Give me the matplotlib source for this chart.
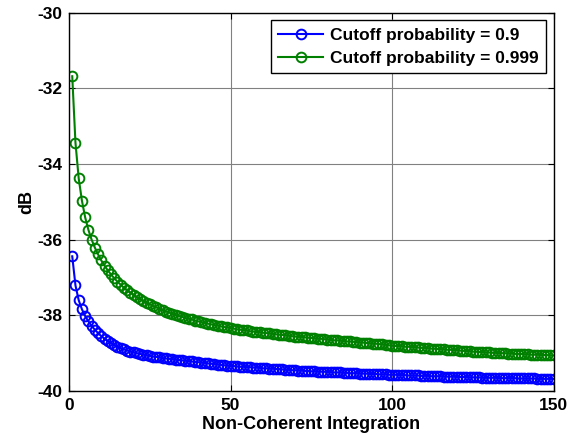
import matplotlib
matplotlib.use("Agg")
import matplotlib.pyplot as plt
import numpy as np

# Non-coherent integration count (1..150)
n_int = np.arange(1, 151)

# Cutoff probability = 0.9 (dB)
db_p09 = [
    -36.44, -37.21, -37.60, -37.84, -38.02, -38.16, -38.28, -38.38, -38.47, -38.55,
    -38.62, -38.68, -38.73, -38.78, -38.83, -38.87, -38.90, -38.93, -38.96, -38.98,
    -39.00, -39.02, -39.04, -39.06, -39.07, -39.09, -39.10, -39.11, -39.13, -39.14,
    -39.15, -39.16, -39.17, -39.18, -39.19, -39.20, -39.21, -39.22, -39.23, -39.24,
    -39.25, -39.26, -39.27, -39.28, -39.29, -39.30, -39.31, -39.32, -39.33, -39.34,
    -39.34, -39.35, -39.36, -39.36, -39.37, -39.37, -39.38, -39.38, -39.39, -39.40,
    -39.40, -39.41, -39.41, -39.42, -39.42, -39.43, -39.44, -39.44, -39.45, -39.45,
    -39.46, -39.46, -39.47, -39.47, -39.48, -39.48, -39.49, -39.49, -39.49, -39.50,
    -39.50, -39.51, -39.51, -39.51, -39.52, -39.52, -39.53, -39.53, -39.53, -39.54,
    -39.54, -39.54, -39.55, -39.55, -39.55, -39.56, -39.56, -39.56, -39.57, -39.57,
    -39.57, -39.58, -39.58, -39.58, -39.59, -39.59, -39.59, -39.59, -39.60, -39.60,
    -39.60, -39.61, -39.61, -39.61, -39.61, -39.62, -39.62, -39.62, -39.62, -39.63,
    -39.63, -39.63, -39.63, -39.64, -39.64, -39.64, -39.64, -39.65, -39.65, -39.65,
    -39.65, -39.65, -39.66, -39.66, -39.66, -39.66, -39.66, -39.66, -39.67, -39.67,
    -39.67, -39.67, -39.67, -39.67, -39.68, -39.68, -39.68, -39.68, -39.68, -39.68,
]

# Cutoff probability = 0.999 (dB)
db_p0999 = [
    -31.68, -33.44, -34.38, -34.97, -35.41, -35.74, -36.00, -36.21, -36.39, -36.55,
    -36.69, -36.81, -36.92, -37.02, -37.11, -37.19, -37.27, -37.34, -37.40, -37.46,
    -37.52, -37.57, -37.62, -37.67, -37.71, -37.75, -37.79, -37.83, -37.86, -37.90,
    -37.93, -37.96, -37.99, -38.02, -38.04, -38.07, -38.09, -38.11, -38.14, -38.16,
    -38.18, -38.20, -38.22, -38.24, -38.26, -38.27, -38.29, -38.31, -38.32, -38.34,
    -38.35, -38.37, -38.38, -38.39, -38.40, -38.42, -38.43, -38.44, -38.45, -38.46,
    -38.47, -38.48, -38.49, -38.50, -38.51, -38.52, -38.53, -38.54, -38.55, -38.56,
    -38.57, -38.57, -38.58, -38.59, -38.60, -38.61, -38.62, -38.62, -38.63, -38.64,
    -38.65, -38.66, -38.66, -38.67, -38.68, -38.69, -38.69, -38.70, -38.71, -38.72,
    -38.72, -38.73, -38.74, -38.75, -38.75, -38.76, -38.77, -38.78, -38.79, -38.80,
    -38.81, -38.81, -38.82, -38.83, -38.83, -38.84, -38.84, -38.85, -38.86, -38.86,
    -38.87, -38.88, -38.88, -38.89, -38.89, -38.90, -38.91, -38.91, -38.92, -38.92,
    -38.93, -38.94, -38.94, -38.95, -38.96, -38.96, -38.97, -38.97, -38.98, -38.98,
    -38.99, -38.99, -39.00, -39.00, -39.00, -39.01, -39.01, -39.02, -39.02, -39.02,
    -39.03, -39.03, -39.04, -39.04, -39.04, -39.05, -39.05, -39.05, -39.06, -39.06,
]

labels = ["Cutoff probability = 0.9", "Cutoff probability = 0.999"]
x_ticks = [0, 50, 100, 150]
y_ticks = [-40, -38, -36, -34, -32, -30]

plt.rcParams['font.family'] = ['Liberation Sans', 'DejaVu Sans']
plt.rcParams['font.weight'] = 'bold'
plt.rcParams['axes.unicode_minus'] = False

fig = plt.figure(figsize=(5.77, 4.37), dpi=100)
ax = fig.add_axes([0.1196, 0.1053, 0.8397, 0.8657])

ax.plot(n_int, db_p09, color=(0, 0, 1), marker='o', mfc='none', ms=7,
        mew=1.4, lw=1.5, label=labels[0])
ax.plot(n_int, db_p0999, color=(0, 0.5, 0), marker='o', mfc='none', ms=7,
        mew=1.4, lw=1.5, label=labels[1])

ax.set_xlim(0, 150)
ax.set_ylim(-40, -30)
ax.set_xticks(x_ticks)
ax.set_yticks(y_ticks)
ax.tick_params(direction='in', top=True, right=True, labelsize=12.5,
               length=4, pad=5)
for lab in ax.get_xticklabels() + ax.get_yticklabels():
    lab.set_fontweight('bold')
ax.grid(True, color='#808080', lw=0.8, ls='-')
ax.set_axisbelow(True)
for sp in ax.spines.values():
    sp.set_linewidth(1.0)

ax.set_xlabel('Non-Coherent Integration', fontsize=13, fontweight='bold', labelpad=2)
ax.set_ylabel('dB', fontsize=13, fontweight='bold', labelpad=1)

leg = ax.legend(loc='upper right', numpoints=1, fancybox=False, framealpha=1,
                edgecolor='black', fontsize=12.5, handlelength=2.6,
                handletextpad=0.4, borderaxespad=0.45, borderpad=0.4,
                labelspacing=0.5)
leg.get_frame().set_linewidth(1.0)
for t in leg.get_texts():
    t.set_fontweight('bold')

fig.savefig('out.png', dpi=100)
